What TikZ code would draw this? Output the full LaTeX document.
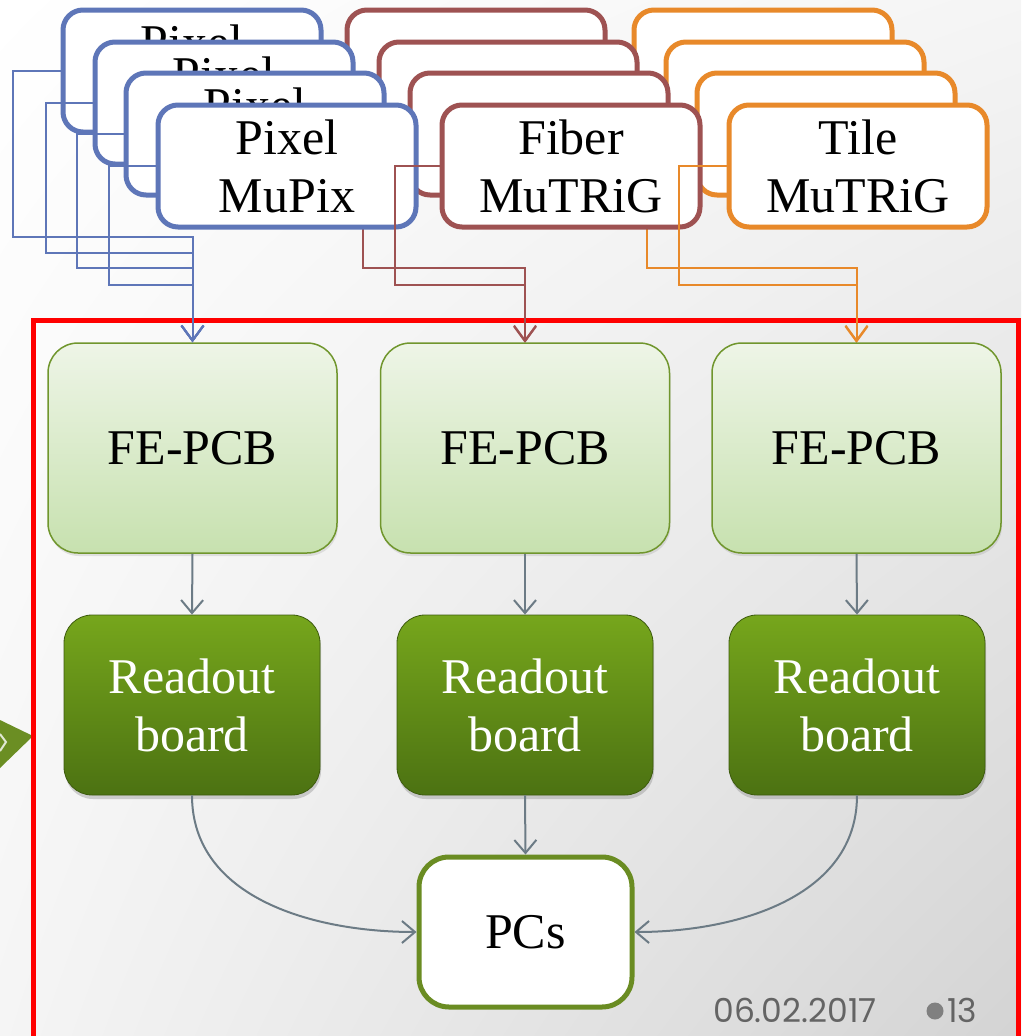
\documentclass[tikz,border=0pt]{standalone}
\usepackage{fontspec}
\setmainfont{Liberation Serif}
\newfontfamily\footfont{Poppins}
\usepackage{tikz}
\usetikzlibrary{arrows.meta,shadows,shadings}

\definecolor{pixblue}{RGB}{94,118,184}
\definecolor{fibred}{RGB}{158,82,82}
\definecolor{tilorange}{RGB}{232,137,42}
\definecolor{fetop}{RGB}{238,245,231}
\definecolor{febot}{RGB}{199,225,175}
\definecolor{feline}{RGB}{112,150,45}
\definecolor{rdtop}{RGB}{118,166,28}
\definecolor{rdbot}{RGB}{76,114,18}
\definecolor{pcline}{RGB}{106,140,34}
\definecolor{flowgray}{RGB}{108,123,133}
\definecolor{footgray}{RGB}{100,100,100}
\definecolor{arrowgreen}{RGB}{107,142,35}

\begin{document}
\begin{tikzpicture}[x=1pt,y=-1pt]
\tikzset{chip/.style = {shape=rectangle,rounded corners=20pt,draw,line width=5pt,fill=white,
  minimum width=258pt,minimum height=122pt,inner sep=0pt,align=center,font=\fontsize{50}{58}\selectfont}}
\tikzset{fepcb/.style = {shape=rectangle,rounded corners=30pt,draw=feline,line width=1.5pt,
  top color=fetop,bottom color=febot,minimum width=289pt,minimum height=210pt,
  drop shadow={opacity=0.2,shadow xshift=1pt,shadow yshift=-3pt},font=\fontsize{50}{58}\selectfont}}
\tikzset{readout/.style = {shape=rectangle,rounded corners=28pt,draw=rdbot!80!black,line width=0.8pt,
  top color=rdtop,bottom color=rdbot,minimum width=256pt,minimum height=180pt,text=white,align=center,
  drop shadow={opacity=0.35,shadow xshift=1pt,shadow yshift=-4pt},font=\fontsize{50}{58}\selectfont}}
\tikzset{wire/.style = {line width=2pt,-{Straight Barb[length=15pt,width=22pt]}}}
\tikzset{flow/.style = {draw=flowgray,line width=2pt,-{Straight Barb[length=13pt,width=22pt]}}}

\useasboundingbox (0,0) rectangle (1021,1036);
\shade[upper left=white,upper right=white!96!black,lower left=white!96!black,lower right=white!83!black]
  (0,0) rectangle (1021,1036);
% arrow from the left and frame
\fill[arrowgreen] (0,720) -- (33,736) -- (0,768) -- cycle;
\draw[white!80!arrowgreen,line width=2pt] (0,734) -- (6,742) -- (0,751);
\draw[red,line width=5pt] (33,320) rectangle (1018,1042);

% tile stack
\node[chip,draw=tilorange] (tilA) at (763,71) {};
\node[chip,draw=tilorange] (tilB) at (795,103) {};
\node[chip,draw=tilorange] (tilC) at (826,134) {};
\draw[wire,tilorange] (tilC.west) -- ++(-48,0) -- ++(0,134) -| (856.5,343);
\node[chip,draw=tilorange] (til) at (858,166) {Tile\\MuTRiG};
% fiber stack
\node[chip,draw=fibred] (fibA) at (476,71) {};
\node[chip,draw=fibred] (fibB) at (508,103) {};
\node[chip,draw=fibred] (fibC) at (539,134) {};
\draw[wire,fibred] (fibC.west) -- ++(-45,0) -- ++(0,134) -| (525,343);
\node[chip,draw=fibred] (fib) at (571,166) {Fiber\\MuTRiG};
% pixel stack
\node[chip,draw=pixblue] (pixA) at (192,71) {Pixel\\MuPix};
\node[chip,draw=pixblue] (pixB) at (224,103) {Pixel\\MuPix};
\node[chip,draw=pixblue] (pixC) at (255,134) {Pixel\\MuPix};
\node[chip,draw=pixblue] (pix) at (287,166) {Pixel\\MuPix};

% front ends
\node[fepcb] (fe1) at (192.5,448) {FE-PCB};
\node[fepcb] (fe2) at (525,448) {FE-PCB};
\node[fepcb] (fe3) at (856.5,448) {FE-PCB};
% readout boards
\node[readout] (rd1) at (192,705) {Readout\\board};
\node[readout] (rd2) at (525,705) {Readout\\board};
\node[readout] (rd3) at (857,705) {Readout\\board};
% pcs
\node[shape=rectangle,rounded corners=30pt,draw=pcline,line width=5pt,fill=white,
  minimum width=213pt,minimum height=150pt,font=\fontsize{50}{58}\selectfont] (pcs) at (525.5,932) {PCs};

% wires
\draw[wire,pixblue] (pixA.west) -- ++(-48,0) -- ++(0,166) -| (fe1.north);
\draw[wire,pixblue] (pixB.west) -- ++(-47,0) -- ++(0,150) -| (fe1.north);
\draw[wire,pixblue] (pixC.west) -- ++(-47,0) -- ++(0,134) -| (fe1.north);
\draw[wire,pixblue] (pix.west) -- ++(-47,0) -- ++(0,119) -| (fe1.north);
\draw[wire,fibred] (fib.west) -- ++(-45,0) -- ++(0,119) -| (fe2.north);
\draw[wire,tilorange] (til.west) -- ++(-48,0) -- ++(0,119) -| (fe3.north);
%edges
\draw[flow] (fe1.south) -- (rd1.north);
\draw[flow] (fe2.south) -- (rd2.north);
\draw[flow] (fe3.south) -- (rd3.north);
\draw[flow] (rd1.south) to[out=-90,in=180] (pcs.west);
\draw[flow] (rd2.south) -- (pcs.north);
\draw[flow] (rd3.south) to[out=-90,in=0] (pcs.east);

% footer
\node[font=\footfont\fontsize{33}{38}\selectfont,text=footgray,anchor=base east,inner sep=0pt] (date) at (877,1022) {06.02.2017};
\node[circle,fill=gray,minimum size=17pt,inner sep=0pt] (dot) at (935,1011) {};
\node[font=\footfont\fontsize{33}{38}\selectfont,text=footgray,anchor=base west,inner sep=0pt] (page) at (947,1022) {13};
\end{tikzpicture}
\end{document}
